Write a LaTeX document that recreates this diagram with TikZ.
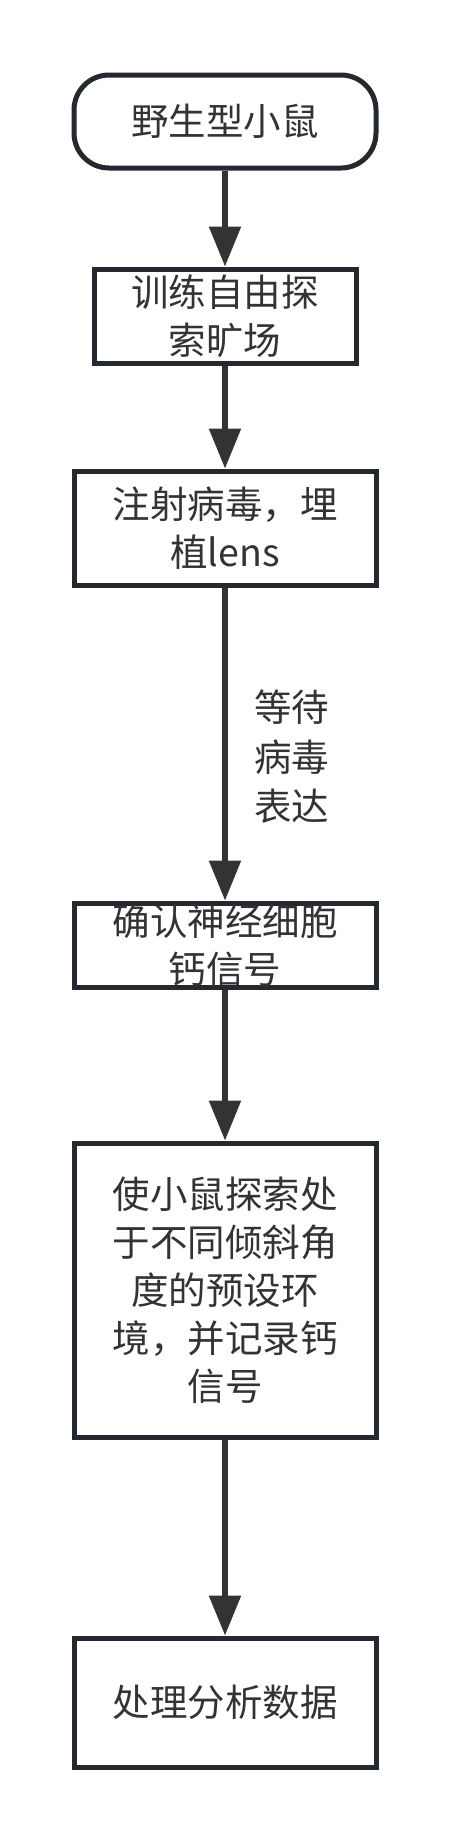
\documentclass[tikz,border=0pt]{standalone}
\usepackage{fontspec}
\setmainfont{Noto Sans CJK SC}
\usepackage{xcolor}
\usepackage{tikz}
\usetikzlibrary{positioning,arrows.meta}
\definecolor{boxline}{HTML}{23292F}
\definecolor{arrowgray}{HTML}{333333}
\definecolor{textgray}{HTML}{333333}

\begin{document}
\begin{tikzpicture}[
	x=1pt, y=1pt,
	% 起止框 (圆角)
	tnode/.style={
		rectangle, rounded corners=35pt, draw=boxline, line width=5pt, fill=white,
		minimum width=302pt, minimum height=93pt, inner sep=0pt,
		align=center, text=textgray, font=\fontsize{37.5pt}{48pt}\selectfont
	},
	% 流程框
	pnode/.style={
		rectangle, draw=boxline, line width=5pt, fill=white,
		minimum width=302pt, inner sep=0pt,
		align=center, text=textgray, font=\fontsize{37.5pt}{48pt}\selectfont
	},
	% 箭头旁的说明文字
	lbl/.style={
		align=center, text=textgray, inner sep=0pt,
		font=\fontsize{37.5pt}{49.5pt}\selectfont
	},
	arr/.style={
		draw=arrowgray, line width=5.5pt,
		-{Triangle[length=40pt, width=31pt]}
	}
	]
	
	% --- 画布 ---
	\fill[white] (0,0) rectangle (450,-1842);
	\useasboundingbox (0,0) rectangle (450,-1842);
	
	% --- 1. 流程节点 ---
	\node[tnode] (start) at (225,-121.5) {野生型小鼠};
	\node[pnode, minimum width=262pt, minimum height=94pt] (train) at (225,-316) {训练自由探\\索旷场};
	\node[pnode, minimum height=114pt] (inject) at (225,-528) {注射病毒，埋\\植lens};
	\node[pnode, minimum height=84pt] (confirm) at (225,-945) {确认神经细胞\\钙信号};
	\node[pnode, minimum height=294pt] (explore) at (225,-1290) {使小鼠探索处\\于不同倾斜角\\度的预设环\\境，并记录钙\\信号};
	\node[pnode, minimum height=129pt] (analyse) at (225,-1702.5) {处理分析数据};
	
	% --- 2. 箭头 ---
	\draw[arr] (start) -- (train);
	\draw[arr] (train) -- (inject);
	\draw[arr] (inject) -- (confirm);
	\draw[arr] (confirm) -- (explore);
	\draw[arr] (explore) -- (analyse);
	
	% 说明: 等待病毒表达
	\node[lbl, anchor=west] (wait) at (254,-757) {等待\\病毒\\表达};
\end{tikzpicture}
\end{document}
